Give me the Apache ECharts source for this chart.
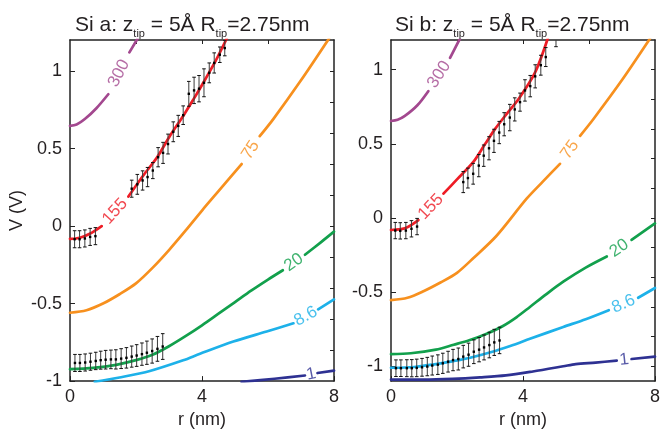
<!DOCTYPE html>
<html><head><meta charset="utf-8">
<script src="https://cdn.jsdelivr.net/npm/echarts@6/dist/echarts.min.js"></script>
<style>html,body{margin:0;padding:0;background:#fff}#c{width:663px;height:434px}</style>
</head><body><div id="c"></div>
<script>
// ================= DATA =================
// tick labels / tick positions
const rTickLabels = [0, 4, 8];
const rTopTicks = [2, 4, 6];
const vTickLabels = [-1, -0.5, 0, 0.5, 1];
const vRightTicksA = [-0.8, -0.6, -0.4, -0.2, 0, 0.2, 0.4, 0.6, 0.8, 1.0];
const vRightTicksB = [-1.0, -0.8, -0.6, -0.4, -0.2, 0, 0.2, 0.4, 0.6, 0.8, 1.0];
const levels = ['300', '155', '75', '20', '8.6', '1'];

// ---- Panel a (Si a) contour lines: [r (nm), V (V)], null = label gap
const a300 = [[0,0.646],[0.2,0.655],[0.45,0.69],[0.8,0.76],[1.16,0.85],null,[1.8,1.12],[2.05,1.21]];
const a155 = [[0,-0.083],[0.3,-0.075],[0.6,-0.05],[0.96,0.0],null,[1.77,0.19],[2.22,0.326],[2.63,0.44],[3.03,0.582],[3.43,0.71],[3.74,0.817],[4.0,0.91],[4.4,1.06],[4.75,1.21]];
const a75  = [[0,-0.559],[0.5,-0.543],[1,-0.5],[1.5,-0.44],[2,-0.37],[2.5,-0.27],[3,-0.155],[3.5,-0.03],[4,0.1],[4.5,0.225],[5.2,0.40],null,[5.75,0.58],[6.16,0.69],[7,0.94],[7.85,1.21]];
const a20  = [[0,-0.923],[0.7,-0.915],[1.4,-0.895],[2,-0.865],[2.5,-0.83],[3,-0.775],[3.5,-0.71],[4,-0.64],[4.5,-0.565],[5,-0.49],[5.5,-0.415],[6,-0.345],[6.45,-0.285],null,[7.12,-0.185],[7.6,-0.105],[8,-0.036]];
const a8_6 = [[0.75,-1.005],[1.5,-0.977],[2.42,-0.935],[3.43,-0.866],[3.94,-0.824],[4.95,-0.745],[5.96,-0.68],[6.77,-0.627],null,[7.52,-0.537],[8,-0.473]];
const a1   = [[5.2,-1.005],[6.2,-0.985],[7.12,-0.964],null,[7.5,-0.948],[8,-0.932]];

// ---- Panel a measured points with error bars
const aLowR = [0.14,0.29,0.45,0.61,0.77];
const aLowV = [-0.085,-0.085,-0.08,-0.07,-0.065];
const aLowE = [0.055,0.055,0.055,0.055,0.055];
const aHighR = [1.87,2.04,2.20,2.35,2.51,2.67,2.82,2.97,3.13,3.28,3.43,3.60,3.76,3.91,4.06,4.22,4.37,4.54,4.69];
const aHighV = [0.241,0.269,0.294,0.316,0.358,0.444,0.472,0.529,0.608,0.646,0.715,0.853,0.875,0.886,0.924,0.988,1.052,1.105,1.148];
const aHighE = [0.055,0.064,0.062,0.062,0.052,0.062,0.068,0.064,0.064,0.068,0.06,0.08,0.085,0.085,0.09,0.064,0.065,0.05,0.05];
const aGrR = [0.15,0.30,0.46,0.62,0.78,0.93,1.08,1.24,1.39,1.55,1.71,1.87,2.02,2.18,2.33,2.49,2.65,2.81];
const aGrV = [-0.883,-0.883,-0.88,-0.875,-0.87,-0.865,-0.862,-0.86,-0.86,-0.855,-0.85,-0.842,-0.835,-0.826,-0.817,-0.806,-0.792,-0.777];
const aGrE = [0.055,0.055,0.055,0.055,0.056,0.058,0.06,0.06,0.062,0.064,0.066,0.068,0.07,0.072,0.075,0.078,0.08,0.083];

// ---- Panel b (Si b) contour lines
const b300 = [[0,0.654],[0.2,0.662],[0.42,0.688],[0.8,0.76],[1.13,0.855],null,[1.79,1.08],[2.09,1.21]];
const b155 = [[0,-0.081],[0.42,-0.07],[0.83,-0.014],null,[1.59,0.164],[2.0,0.26],[2.49,0.376],[2.85,0.498],[3.15,0.599],[3.5,0.7],[3.86,0.8],[4.36,0.978],[4.75,1.21]];
const b75  = [[0,-0.554],[0.5,-0.538],[1,-0.492],[1.5,-0.435],[2,-0.37],[2.5,-0.27],[3.2,-0.12],[4.11,0.13],[4.6,0.245],[5.12,0.365],null,[5.73,0.554],[6.13,0.666],[7,0.93],[7.85,1.21]];
const b20  = [[0,-0.918],[0.6,-0.912],[1.36,-0.888],[1.9,-0.855],[2.37,-0.825],[2.9,-0.78],[3.38,-0.73],[3.8,-0.67],[4.21,-0.6],[4.7,-0.515],[5.22,-0.43],[5.9,-0.335],[6.54,-0.26],null,[7.29,-0.148],[8,-0.037]];
const b8_6 = [[0,-1.01],[0.7,-1.005],[1.36,-0.985],[1.9,-0.965],[2.37,-0.944],[3.18,-0.895],[3.7,-0.857],[4.21,-0.815],[5.22,-0.735],[5.9,-0.683],[6.6,-0.622],null,[7.49,-0.538],[8,-0.472]];
const b1   = [[0,-1.09],[1,-1.09],[1.87,-1.085],[2.7,-1.075],[3.48,-1.062],[4.3,-1.035],[5.22,-1.0],[5.6,-0.985],[6.2,-0.975],[6.84,-0.962],null,[7.29,-0.951],[8,-0.935]];

// ---- Panel b measured points with error bars
const bLowR = [0.13,0.28,0.45,0.62,0.79];
const bLowV = [-0.085,-0.087,-0.085,-0.073,-0.058];
const bLowE = [0.055,0.055,0.055,0.055,0.055];
const bHighR = [2.19,2.33,2.49,2.66,2.81,2.97,3.12,3.28,3.43,3.60,3.75,3.91,4.06,4.22,4.37,4.54,4.69,5.0];
const bHighV = [0.242,0.269,0.298,0.353,0.42,0.47,0.52,0.576,0.632,0.677,0.732,0.781,0.86,0.889,0.955,1.03,1.085,1.23];
const bHighE = [0.071,0.067,0.07,0.075,0.072,0.078,0.078,0.075,0.078,0.089,0.078,0.061,0.072,0.072,0.078,0.067,0.064,0.075];
const bGrR = [0.15,0.30,0.48,0.63,0.78,0.94,1.10,1.25,1.42,1.57,1.73,1.88,2.04,2.19,2.35,2.51,2.67,2.82,2.98,3.13,3.29];
const bGrV = [-1.013,-1.013,-1.013,-1.013,-1.011,-1.007,-1.002,-0.995,-0.989,-0.98,-0.969,-0.958,-0.951,-0.935,-0.922,-0.902,-0.888,-0.873,-0.857,-0.839,-0.826];
const bGrE = [0.056,0.056,0.057,0.058,0.059,0.06,0.062,0.064,0.066,0.068,0.07,0.072,0.074,0.076,0.078,0.08,0.082,0.084,0.086,0.088,0.089];

// ================= STYLE / BUILD =================
const FONT = '"Liberation Sans", Arial, Helvetica, sans-serif';
const TXT = '#231f20';
const AX = '#222';
const COLORS = {'300':'#a3488f','155':'#ee1c25','75':'#f7901e','20':'#12a04c','8.6':'#1db1e9','1':'#2e3192'};

const panels = [
  { title: 'Si a: z{s|tip} = 5Å R{s|tip}=2.75nm', vmin: -1, vmax: 1.2, rightTicks: vRightTicksA,
    lines: {'300':a300,'155':a155,'75':a75,'20':a20,'8.6':a8_6,'1':a1},
    errs: [[aLowR,aLowV,aLowE],[aHighR,aHighV,aHighE],[aGrR,aGrV,aGrE]], yName: 'V (V)' },
  { title: 'Si b: z{s|tip} = 5Å R{s|tip}=2.75nm', vmin: -1.1, vmax: 1.2, rightTicks: vRightTicksB,
    lines: {'300':b300,'155':b155,'75':b75,'20':b20,'8.6':b8_6,'1':b1},
    errs: [[bLowR,bLowV,bLowE],[bHighR,bHighV,bHighE],[bGrR,bGrV,bGrE]], yName: '' }
];
const gridBox = [{left:70, top:40, width:264, height:343},{left:391, top:40, width:264, height:343}];
const titleLeft = [70, 390];

function renderErr(params, api) {
  const x = api.value(0), y = api.value(1), e = api.value(2);
  const c = api.coord([x, y]);
  const hi = api.coord([x, y + e]);
  const lo = api.coord([x, y - e]);
  const w = 1.8;
  return { type: 'group', children: [
    { type: 'line', shape: {x1:c[0], y1:hi[1], x2:c[0], y2:lo[1]}, style: {stroke:'#3a3a3a', lineWidth:1} },
    { type: 'line', shape: {x1:c[0]-w, y1:hi[1], x2:c[0]+w, y2:hi[1]}, style: {stroke:'#111', lineWidth:1} },
    { type: 'line', shape: {x1:c[0]-w, y1:lo[1], x2:c[0]+w, y2:lo[1]}, style: {stroke:'#111', lineWidth:1} },
    { type: 'rect', shape: {x:c[0]-1.2, y:c[1]-1.2, width:2.4, height:2.4}, style: {fill:'#000'} }
  ]};
}

const xAxes = [], yAxes = [], grids = [], titles = [], series = [];
const labelItems = [[], []];

panels.forEach((p, g) => {
  grids.push(Object.assign({containLabel:false}, gridBox[g]));
  titles.push({ text: p.title, left: titleLeft[g], top: 6,
    textStyle: { fontSize: 21, fontWeight: 'normal', color: TXT, fontFamily: FONT, lineHeight: 28,
      rich: { s: { fontSize: 11, color: TXT, fontFamily: FONT, verticalAlign: 'bottom', lineHeight: 14 } } } });
  xAxes.push({ gridIndex: g, type: 'value', min: 0, max: 8, position: 'bottom',
    axisLine: { show: true, onZero: false, lineStyle: { color: AX, width: 1.5 } },
    axisTick: { show: true, inside: true, length: 5, customValues: rTickLabels, lineStyle: { color: AX, width: 1 } },
    axisLabel: { show: true, customValues: rTickLabels, fontSize: 18, color: TXT, fontFamily: FONT, margin: 7 },
    splitLine: { show: false },
    name: 'r (nm)', nameLocation: 'middle', nameGap: 28,
    nameTextStyle: { fontSize: 18, color: TXT, fontFamily: FONT } });
  xAxes.push({ gridIndex: g, type: 'value', min: 0, max: 8, position: 'top',
    axisLine: { show: true, onZero: false, lineStyle: { color: AX, width: 1.5 } },
    axisTick: { show: true, inside: true, length: 4, customValues: rTopTicks, lineStyle: { color: AX, width: 1 } },
    axisLabel: { show: false }, splitLine: { show: false } });
  yAxes.push({ gridIndex: g, type: 'value', min: p.vmin, max: p.vmax, position: 'left',
    axisLine: { show: true, onZero: false, lineStyle: { color: AX, width: 1.5 } },
    axisTick: { show: true, inside: true, length: 5, customValues: vTickLabels, lineStyle: { color: AX, width: 1 } },
    axisLabel: { show: true, customValues: vTickLabels, fontSize: 18, color: TXT, fontFamily: FONT, margin: 8 },
    splitLine: { show: false },
    name: p.yName, nameLocation: 'middle', nameGap: 44, nameRotate: 90,
    nameTextStyle: { fontSize: 18, color: TXT, fontFamily: FONT } });
  yAxes.push({ gridIndex: g, type: 'value', min: p.vmin, max: p.vmax, position: 'right',
    axisLine: { show: true, onZero: false, lineStyle: { color: AX, width: 1.5 } },
    axisTick: { show: true, inside: true, length: 4, customValues: p.rightTicks, lineStyle: { color: AX, width: 1 } },
    axisLabel: { show: false }, splitLine: { show: false } });

  levels.forEach(lv => {
    const pts = p.lines[lv];
    series.push({ type: 'line', name: lv + '_' + g, xAxisIndex: 2*g, yAxisIndex: 2*g,
      data: pts.map(d => d === null ? ['-', '-'] : d),
      showSymbol: false, symbol: 'none', connectNulls: false, smooth: 0.3,
      lineStyle: { color: COLORS[lv], width: 2.7, cap: 'round', join: 'round' }, itemStyle: { color: COLORS[lv] },
      clip: true, silent: true, z: 2 });
    const k = pts.indexOf(null);
    if (k > 0) labelItems[g].push({ lv: lv, a: pts[k-1], b: pts[k+1] });
  });

  p.errs.forEach(([R, V, E]) => {
    series.push({ type: 'custom', xAxisIndex: 2*g, yAxisIndex: 2*g, clip: true, z: 5, silent: true,
      renderItem: renderErr, data: R.map((r, i) => [r, V[i], E[i]]) });
  });

  series.push({ type: 'scatter', id: 'lab' + g, xAxisIndex: 2*g, yAxisIndex: 2*g, symbolSize: 0, silent: true, z: 6,
    data: labelItems[g].map(it => ({ value: [(it.a[0]+it.b[0])/2, (it.a[1]+it.b[1])/2],
      label: { show: true, formatter: it.lv, color: COLORS[it.lv] } })),
    label: { show: true, position: 'inside', fontSize: 17, fontFamily: FONT } });
});

const chart = echarts.init(document.getElementById('c'), null, { renderer: 'canvas' });
chart.setOption({ animation: false, backgroundColor: '#fff', title: titles, grid: grids,
  xAxis: xAxes, yAxis: yAxes, series: series });

// rotate labels along their line using the library's own coordinate conversion
const upd = [0, 1].map(g => ({ id: 'lab' + g,
  data: labelItems[g].map(it => {
    const pa = chart.convertToPixel({ gridIndex: g }, it.a);
    const pb = chart.convertToPixel({ gridIndex: g }, it.b);
    const ang = Math.atan2(-(pb[1]-pa[1]), pb[0]-pa[0]) * 180 / Math.PI;
    return { value: [(it.a[0]+it.b[0])/2, (it.a[1]+it.b[1])/2],
      label: { show: true, formatter: it.lv, color: COLORS[it.lv], rotate: ang } };
  }) }));
chart.setOption({ series: upd });
</script>
</body></html>
